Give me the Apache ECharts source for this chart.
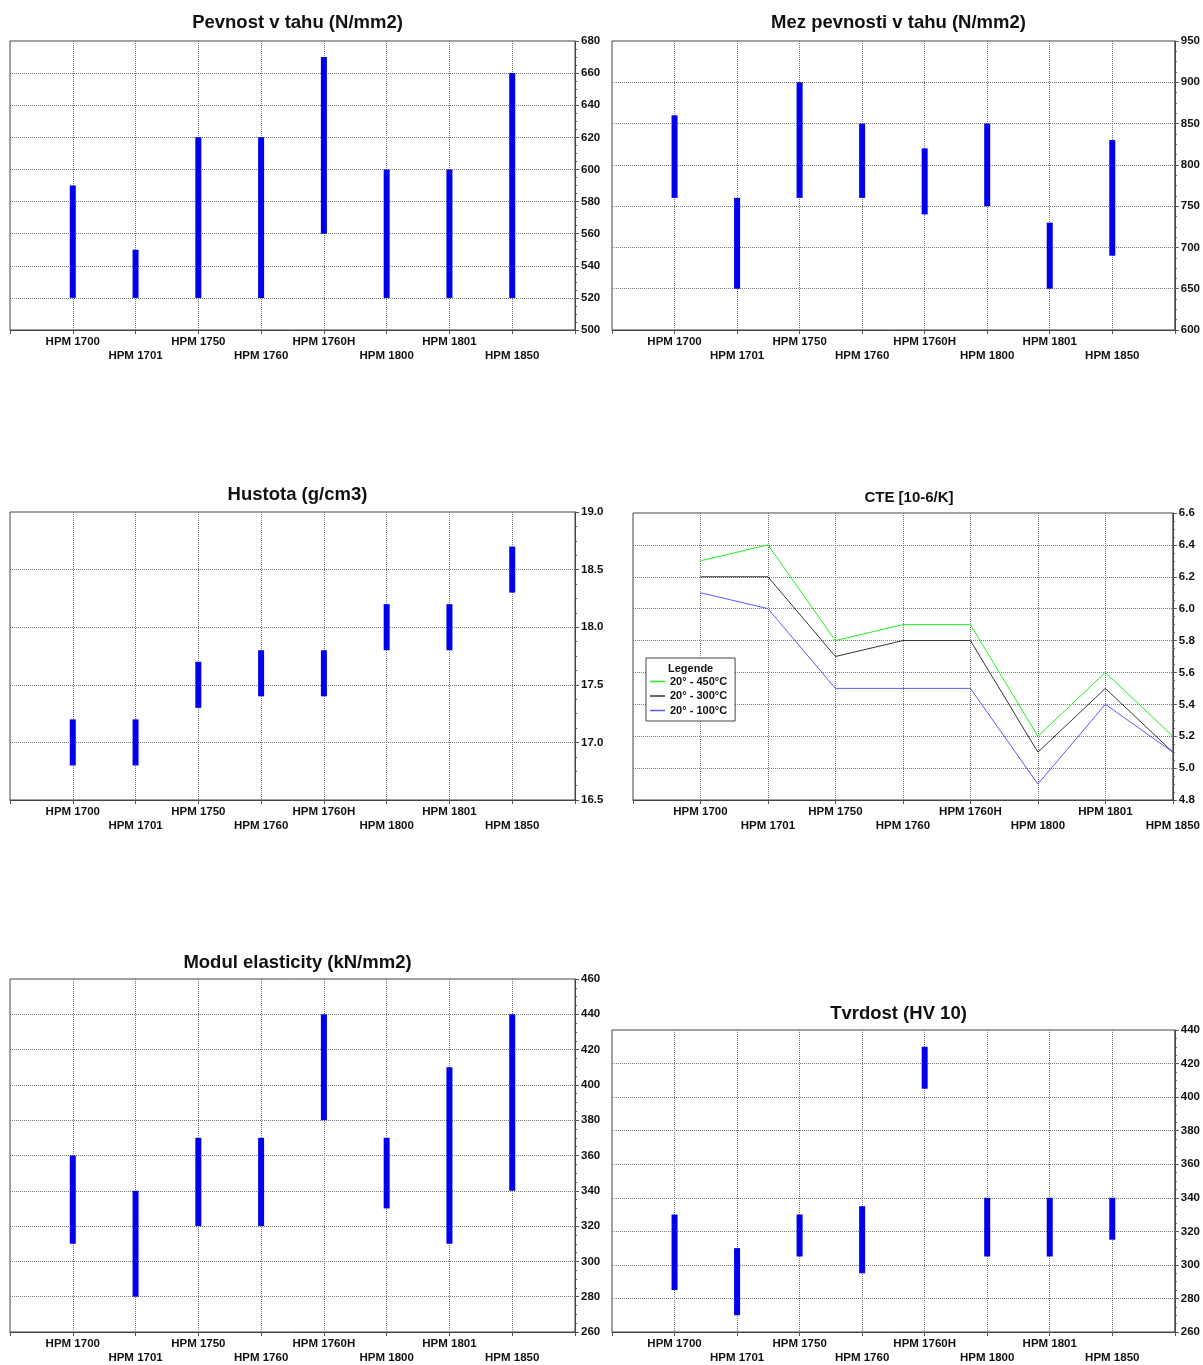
<!DOCTYPE html>
<html><head><meta charset="utf-8">
<script src="https://cdn.jsdelivr.net/npm/echarts@6/dist/echarts.min.js"></script>
<style>html,body{margin:0;padding:0;background:#fff}#c{width:1203px;height:1365px}</style>
</head><body><div id="c"></div>
<script>
const categories = ['HPM 1700','HPM 1701','HPM 1750','HPM 1760','HPM 1760H','HPM 1800','HPM 1801','HPM 1850'];

const tensileLow  = [520,520,520,520,560,520,520,520];
const tensileHigh = [590,550,620,620,670,600,600,660];

const ultimateLow  = [760,650,760,760,740,750,650,690];
const ultimateHigh = [860,760,900,850,820,850,730,830];

const densityLow  = [16.8,16.8,17.3,17.4,17.4,17.8,17.8,18.3];
const densityHigh = [17.2,17.2,17.7,17.8,17.8,18.2,18.2,18.7];

const modulusLow  = [310,280,320,320,380,330,310,340];
const modulusHigh = [360,340,370,370,440,370,410,440];

const hardnessLow  = [285,270,305,295,405,305,305,315];
const hardnessHigh = [330,310,330,335,430,340,340,340];

const cteNames = ['20° - 450°C','20° - 300°C','20° - 100°C'];
const cte450 = [6.3,6.4,5.8,5.9,5.9,5.2,5.6,5.2];
const cte300 = [6.2,6.2,5.7,5.8,5.8,5.1,5.5,5.1];
const cte100 = [6.1,6.0,5.5,5.5,5.5,4.9,5.4,5.1];

const titles = ['Pevnost v tahu (N/mm2)','Mez pevnosti v tahu (N/mm2)','Hustota (g/cm3)','CTE [10-6/K]','Modul elasticity (kN/mm2)','Tvrdost (HV 10)'];
const yTicks = [
  {min:500,max:680,interval:20,dec:0},
  {min:600,max:950,interval:50,dec:0},
  {min:16.5,max:19.0,interval:0.5,dec:1},
  {min:4.8,max:6.6,interval:0.2,dec:1},
  {min:260,max:460,interval:20,dec:0},
  {min:260,max:440,interval:20,dec:0}
];

const FONT = 'Liberation Sans, Arial, sans-serif';
const grids = [
  {left:10, top:41, width:565, height:289},
  {left:612, top:41, width:563, height:289},
  {left:10, top:512, width:565, height:288},
  {left:633, top:513, width:542, height:287},
  {left:10, top:979, width:565, height:355},
  {left:612, top:1030, width:563, height:302}
];
const titleTops = [8, 8, 480, 485, 948, 999];

const chart = echarts.init(document.getElementById('c'), null, {renderer:'canvas'});

const gridOpt = grids.map(g => Object.assign({show:true, borderColor:'#444', borderWidth:1, backgroundColor:'#fff'}, g));
const titleOpt = titles.map((t,i) => ({
  text:t, left: grids[i].left + grids[i].width/2, top: titleTops[i], textAlign:'center',
  textStyle:{fontFamily:FONT, fontWeight:'bold', fontSize: i===3 ? 15 : 18.5, color:'#111'}
}));

const xOpt = grids.map((g,i) => ({
  gridIndex:i, type:'value', min:0, max: i===3 ? 8 : 9, interval:1,
  axisLine:{show:true, onZero:false, lineStyle:{color:'#444'}},
  axisTick:{show:true, length:4, lineStyle:{color:'#555'}},
  splitLine:{show:true, showMinLine:false, showMaxLine:false, lineStyle:{color:'#777', type:'dotted', width:1}},
  axisLabel:{
    show:true, margin:5, fontFamily:FONT, fontWeight:'bold', fontSize:11.5, color:'#111', lineHeight:14,
    showMinLabel:true, showMaxLabel:true, hideOverlap:false,
    formatter: v => {
      const k = Math.round(v) - 1;
      if (k < 0 || k >= categories.length) return '';
      return (k % 2 === 1 ? '\n' : '') + categories[k];
    }
  }
}));

const yOpt = yTicks.map((t,i) => ({
  gridIndex:i, type:'value', position:'right', min:t.min, max:t.max, interval:t.interval,
  axisLine:{show:true, onZero:false, lineStyle:{color:'#444'}},
  axisTick:{show:true, inside:false, length:4, lineStyle:{color:'#555'}},
  minorTick:{show:true, splitNumber:4, length:2, lineStyle:{color:'#555'}},
  splitLine:{show:true, showMinLine:false, showMaxLine:false, lineStyle:{color:'#777', type:'dotted', width:1}},
  axisLabel:{margin:6, fontFamily:FONT, fontWeight:'bold', fontSize:11.5, color:'#111',
    formatter: v => v.toFixed(t.dec)}
}));

function rangeData(lo, hi){ return categories.map((c,k) => [k+1, lo[k], hi[k]]); }
function renderRange(params, api){
  const x = api.value(0), lo = api.value(1), hi = api.value(2);
  const p1 = api.coord([x, hi]);
  const p2 = api.coord([x, lo]);
  return {type:'rect', shape:{x:p1[0]-3, y:p1[1], width:6, height:p2[1]-p1[1]}, style:{fill:'#0000ee'}};
}
const ranges = [[tensileLow,tensileHigh,0],[ultimateLow,ultimateHigh,1],[densityLow,densityHigh,2],[modulusLow,modulusHigh,4],[hardnessLow,hardnessHigh,5]];
const series = ranges.map(r => ({
  type:'custom', xAxisIndex:r[2], yAxisIndex:r[2], renderItem:renderRange,
  encode:{x:0, y:[1,2]}, data: rangeData(r[0], r[1]), clip:false, silent:true
}));
const cteSets = [cte450, cte300, cte100];
const cteColors = ['#22ee22', '#333333', '#5a5aff'];
cteSets.forEach((d,j) => series.push({
  type:'line', name:cteNames[j], xAxisIndex:3, yAxisIndex:3, symbol:'none', showSymbol:false,
  lineStyle:{color:cteColors[j], width:1}, itemStyle:{color:cteColors[j]},
  data: d.map((v,k) => [k+1, v]), animation:false
}));

chart.setOption({
  animation:false,
  backgroundColor:'#fff',
  title: titleOpt,
  grid: gridOpt,
  xAxis: xOpt,
  yAxis: yOpt,
  legend:{
    data: cteNames.map(n => ({name:n, icon:'rect'})), orient:'vertical', left:646, top:658,
    itemWidth:15, itemHeight:1.5, itemGap:3.5,
    backgroundColor:'#fff', borderColor:'#444', borderWidth:1, padding:[18,8,5,4],
    textStyle:{fontFamily:FONT, fontWeight:'bold', fontSize:11, color:'#111'}, selectedMode:false
  },
  graphic:[{type:'text', left:668, top:663, z:100,
    style:{text:'Legende', font:'bold 11px ' + FONT, fill:'#111'}}],
  series: series
});
</script></body></html>
